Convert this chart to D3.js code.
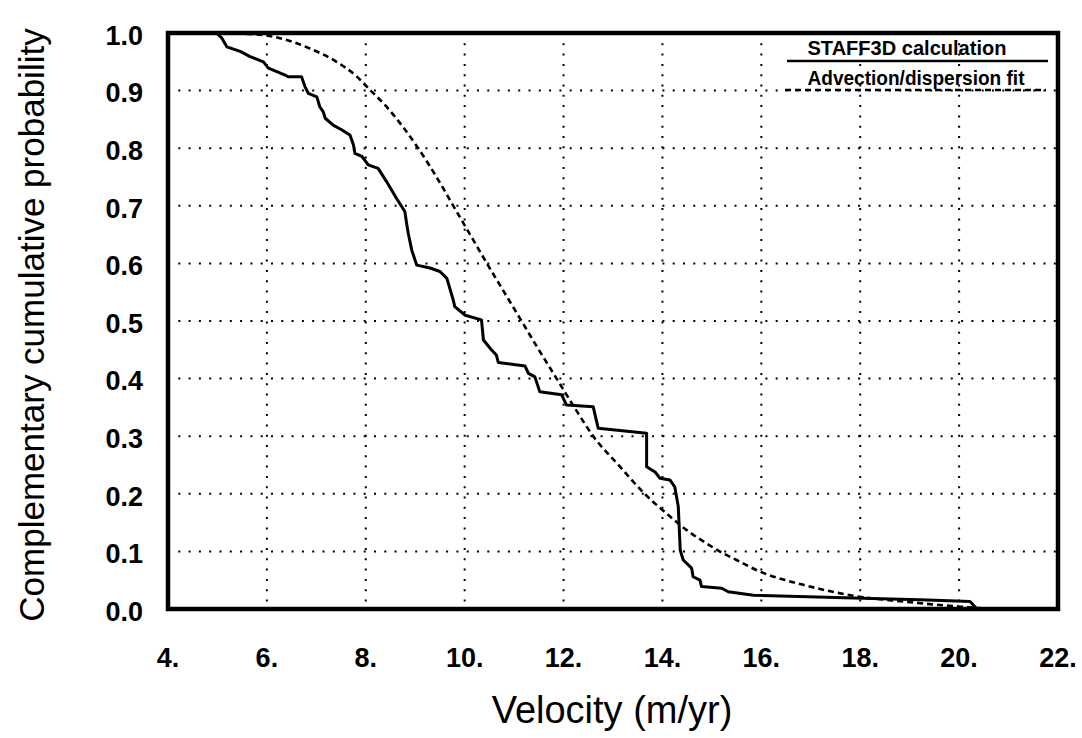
<!DOCTYPE html>
<html>
<head>
<meta charset="utf-8">
<script src="https://cdn.jsdelivr.net/npm/d3@7"></script>
<style>
  body { margin: 0; background: #fff; }
  svg { display: block; font-family: "Liberation Sans", Arial, Helvetica, sans-serif; }
</style>
</head>
<body>
<div id="chart"></div>
<script>
const staffVelocity = [4.98, 5.09, 5.19, 5.46, 5.66, 5.93, 6.03, 6.20, 6.37, 6.43, 6.70, 6.77, 6.84, 7.01, 7.07,
    7.14, 7.18, 7.34, 7.51, 7.68, 7.75, 7.78, 7.92, 8.05, 8.25, 8.42, 8.62, 8.79, 8.83, 8.86, 8.93, 9.03,
    9.30, 9.50, 9.64, 9.77, 9.80, 10.01, 10.34, 10.38, 10.54, 10.64, 10.68, 11.22, 11.29, 11.42, 11.52,
    11.96, 12.06, 12.60, 12.70, 13.68, 13.68, 13.85, 13.95, 14.15, 14.25, 14.32, 14.36, 14.42, 14.59,
    14.62, 14.76, 14.79, 15.20, 15.33, 15.84, 17.86, 19.21, 20.22, 20.32, 20.36];
const staffProb = [1.0, 0.991, 0.976, 0.968, 0.959, 0.950, 0.939, 0.933, 0.927, 0.924, 0.924, 0.907, 0.895, 0.889, 0.872,
    0.863, 0.852, 0.840, 0.832, 0.823, 0.806, 0.791, 0.786, 0.771, 0.765, 0.742, 0.713, 0.690, 0.667, 0.652, 0.623, 0.597,
    0.592, 0.586, 0.574, 0.536, 0.525, 0.510, 0.502, 0.467, 0.450, 0.441, 0.428, 0.422, 0.409, 0.403, 0.377,
    0.372, 0.354, 0.351, 0.314, 0.305, 0.247, 0.238, 0.227, 0.224, 0.212, 0.178, 0.102, 0.085, 0.071,
    0.056, 0.050, 0.039, 0.036, 0.030, 0.024, 0.019, 0.016, 0.013, 0.004, 0.0];

// Advection/dispersion fit (smooth curve)
const fitVelocity = [4.98, 5.86, 6.40, 6.87, 7.41, 7.81, 8.10, 8.42, 8.76, 9.06, 9.43, 9.77, 10.11, 10.45, 10.80,
    11.15, 11.50, 11.86, 12.22, 12.60, 13.10, 13.64, 14.08, 14.49, 14.89, 15.20, 15.50, 15.97, 16.85,
    17.86, 18.87, 19.88, 20.56, 21.23, 22.0];
const fitProb = [1.0, 0.997, 0.988, 0.973, 0.950, 0.925, 0.900, 0.872, 0.836, 0.800, 0.750, 0.700, 0.650, 0.600, 0.550,
    0.500, 0.450, 0.400, 0.350, 0.300, 0.251, 0.200, 0.166, 0.137, 0.114, 0.098, 0.085, 0.065, 0.042,
    0.023, 0.013, 0.005, 0.001, 0.0, 0.0];

const xTicks = [4, 6, 8, 10, 12, 14, 16, 18, 20, 22];
const yTicks = [0.0, 0.1, 0.2, 0.3, 0.4, 0.5, 0.6, 0.7, 0.8, 0.9, 1.0];
const legendLabels = ['STAFF3D calculation', 'Advection/dispersion fit'];

const width = 1082, height = 738;
const plotLeft = 168, plotRight = 1058, plotTop = 33, plotBottom = 609;

const svg = d3.select('#chart').append('svg')
    .attr('width', width)
    .attr('height', height);

const x = d3.scaleLinear().domain([4, 22]).range([plotLeft, plotRight]);
const y = d3.scaleLinear().domain([0, 1]).range([plotBottom, plotTop]);

// dotted grid
svg.append('g').selectAll('line')
    .data(xTicks.filter(d => d > 4 && d < 22))
    .join('line')
    .attr('x1', d => x(d)).attr('x2', d => x(d))
    .attr('y1', plotTop).attr('y2', plotBottom)
    .attr('stroke', '#000')
    .attr('stroke-width', 2)
    .attr('stroke-dasharray', '2 8.3');
svg.append('g').selectAll('line')
    .data(yTicks.filter(d => d > 0 && d < 1))
    .join('line')
    .attr('x1', plotLeft).attr('x2', plotRight)
    .attr('y1', d => y(d)).attr('y2', d => y(d))
    .attr('stroke', '#000')
    .attr('stroke-width', 2)
    .attr('stroke-dasharray', '2 8.3');

// curves
const staffLine = d3.line()
    .x(d => x(d[0]))
    .y(d => y(d[1]));
svg.append('path')
    .datum(d3.zip(staffVelocity, staffProb))
    .attr('d', staffLine)
    .attr('fill', 'none')
    .attr('stroke', '#000')
    .attr('stroke-width', 3)
    .attr('stroke-linejoin', 'round');

const fitLine = d3.line()
    .x(d => x(d[0]))
    .y(d => y(d[1]))
    .curve(d3.curveMonotoneX);
svg.append('path')
    .datum(d3.zip(fitVelocity, fitProb))
    .attr('d', fitLine)
    .attr('fill', 'none')
    .attr('stroke', '#000')
    .attr('stroke-width', 2.6)
    .attr('stroke-dasharray', '6 4');

// frame
svg.append('rect')
    .attr('x', plotLeft).attr('y', plotTop)
    .attr('width', plotRight - plotLeft).attr('height', plotBottom - plotTop)
    .attr('fill', 'none')
    .attr('stroke', '#000')
    .attr('stroke-width', 4.5);

// tick labels
svg.append('g').selectAll('text')
    .data(yTicks)
    .join('text')
    .attr('x', 143)
    .attr('y', d => y(d) + 2)
    .attr('dy', '0.36em')
    .attr('text-anchor', 'end')
    .attr('font-size', 27)
    .attr('font-weight', 'bold')
    .text(d => d.toFixed(1));

svg.append('g').selectAll('text')
    .data(xTicks)
    .join('text')
    .attr('x', d => x(d))
    .attr('y', 667)
    .attr('text-anchor', 'middle')
    .attr('font-size', 27)
    .attr('font-weight', 'bold')
    .text(d => d + '.');

// axis titles
svg.append('text')
    .attr('x', 612)
    .attr('y', 723)
    .attr('text-anchor', 'middle')
    .attr('font-size', 38)
    .text('Velocity (m/yr)');

svg.append('text')
    .attr('transform', 'translate(44,325) rotate(-90)')
    .attr('text-anchor', 'middle')
    .attr('font-size', 35)
    .text('Complementary cumulative probability');

// legend
const legendY = [55, 85];
const legend = svg.append('g');
legend.selectAll('text')
    .data(legendLabels)
    .join('text')
    .attr('x', (d, i) => i === 0 ? 907 : 916)
    .attr('y', (d, i) => legendY[i])
    .attr('text-anchor', 'middle')
    .attr('font-size', 21)
    .attr('font-weight', 'bold')
    .attr('textLength', (d, i) => i === 0 ? 199 : 217)
    .attr('lengthAdjust', 'spacingAndGlyphs')
    .text(d => d);
legend.append('line')
    .attr('x1', 787).attr('x2', 1048)
    .attr('y1', 61).attr('y2', 61)
    .attr('stroke', '#000').attr('stroke-width', 2.5);
legend.append('line')
    .attr('x1', 785).attr('x2', 1046)
    .attr('y1', 90).attr('y2', 90)
    .attr('stroke', '#000').attr('stroke-width', 2.5)
    .attr('stroke-dasharray', '6 4');
</script>
</body>
</html>
